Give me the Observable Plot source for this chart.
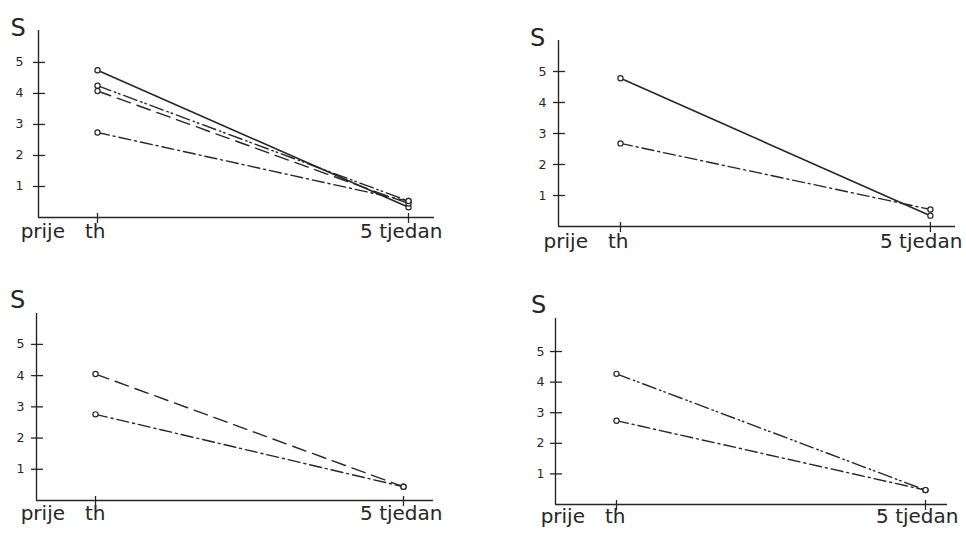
<!DOCTYPE html>
<html>
<head>
<meta charset="utf-8">
<script src="https://cdn.jsdelivr.net/npm/d3@7"></script>
<script src="https://cdn.jsdelivr.net/npm/@observablehq/plot@0.6"></script>
<style>
  html, body { margin: 0; padding: 0; background: #ffffff; }
  #wrap { position: relative; width: 966px; height: 537px; overflow: hidden; background: #ffffff; }
  .panel { position: absolute; }
  .panel svg { display: block; overflow: visible; }
</style>
</head>
<body>
<div id="wrap"></div>
<script>
// ---------- data ----------
const phases = ["prije\u2003th", "5 tjedan"];   // x categories (0, 1)
const yTicks = [1, 2, 3, 4, 5];
const yLabel = "S";

// panel 1 (top left)
const p1Solid      = [4.75, 0.33];
const p1DashDotDot = [4.25, 0.53];
const p1Dashed     = [4.08, 0.45];
const p1DashDot    = [2.74, 0.53];
// panel 2 (top right)
const p2Solid   = [4.78, 0.35];
const p2DashDot = [2.68, 0.55];
// panel 3 (bottom left)
const p3Dashed  = [4.05, 0.44];
const p3DashDot = [2.76, 0.44];
// panel 4 (bottom right)
const p4DashDotDot = [4.27, 0.47];
const p4DashDot    = [2.74, 0.47];

// ---------- styles / layout ----------
const ink = "#262626";
const dashes = {
  solid: null,
  dashed: "14,7",
  dashDot: "12,4,2,4",
  dashDotDot: "14,4,1.5,3,1.5,4"
};

const panels = [
  { left: 0, top: 0, width: 480, height: 262, ml: 38, mr: 46, mt: 30, mb: 45,
    xd: [-0.1897, 1.0836], ymax: 6.03, sdx: -20.5, sdy: -11.5, ydx: -19,
    prijeDx: 8, tjDx: 34, labDy: 20,
    series: [[p1Solid, "solid"], [p1DashDotDot, "dashDotDot"], [p1Dashed, "dashed"], [p1DashDot, "dashDot"]] },
  { left: 490, top: 0, width: 476, height: 262, ml: 68, mr: 11, mt: 40, mb: 36,
    xd: [-0.2, 1.081], ymax: 6.0, sdx: -21, sdy: -12, ydx: -16,
    prijeDx: 8, tjDx: 32, labDy: 21,
    series: [[p2Solid, "solid"], [p2DashDot, "dashDot"]] },
  { left: 0, top: 268, width: 480, height: 269, ml: 36, mr: 47, mt: 45, mb: 37,
    xd: [-0.1916, 1.0974], ymax: 5.99, sdx: -19, sdy: -23, ydx: -16,
    prijeDx: 10, tjDx: 39, labDy: 19,
    series: [[p3Dashed, "dashed"], [p3DashDot, "dashDot"]] },
  { left: 490, top: 268, width: 476, height: 269, ml: 65, mr: 19, mt: 50, mb: 33,
    xd: [-0.1974, 1.0712], ymax: 6.08, sdx: -17, sdy: -23, ydx: -15,
    prijeDx: 9, tjDx: 33, labDy: 18,
    series: [[p4DashDotDot, "dashDotDot"], [p4DashDot, "dashDot"]] }
];

const font = "'DejaVu Sans', 'Liberation Sans', sans-serif";
const wrap = document.getElementById("wrap");

for (const p of panels) {
  const lineMarks = [];
  const pts = [];
  for (const [vals, style] of p.series) {
    const recs = vals.map((v, i) => ({ phase: i, value: v }));
    pts.push(...recs);
    lineMarks.push(Plot.line(recs, {
      x: "phase", y: "value", stroke: ink,
      strokeWidth: style === "solid" ? 1.6 : 1.4,
      strokeDasharray: dashes[style]
    }));
  }

  const chart = Plot.plot({
    width: p.width,
    height: p.height,
    marginLeft: p.ml,
    marginRight: p.mr,
    marginTop: p.mt,
    marginBottom: p.mb,
    style: { background: "transparent", fontFamily: font, color: ink, overflow: "visible" },
    x: { type: "linear", domain: p.xd, axis: null },
    y: { type: "linear", domain: [0, p.ymax], axis: null },
    marks: [
      // axes lines
      Plot.ruleY([0], { stroke: ink, strokeWidth: 1.4 }),
      Plot.ruleX([p.xd[0]], { stroke: ink, strokeWidth: 1.4 }),
      // y ticks crossing axis
      Plot.ruleY(yTicks, { y: d => d, x1: () => p.xd[0], x2: () => p.xd[0],
        insetLeft: -5, insetRight: -7, stroke: ink, strokeWidth: 1.3 }),
      // x ticks crossing axis
      Plot.ruleX([0, 1], { x: d => d, y1: () => 0, y2: () => 0,
        insetTop: -4, insetBottom: -6, stroke: ink, strokeWidth: 1.3 }),
      // y tick labels
      Plot.text(yTicks, { y: d => d, frameAnchor: "left", dx: p.ydx, text: d => String(d),
        fontSize: 12.5, fill: ink, textAnchor: "middle" }),
      // x tick labels
      Plot.text([phases[0]], { x: () => 0, frameAnchor: "bottom", text: d => d,
        textAnchor: "end", dx: p.prijeDx, dy: p.labDy, fontSize: 20, fill: ink }),
      Plot.text([phases[1]], { x: () => 1, frameAnchor: "bottom", text: d => d,
        textAnchor: "end", dx: p.tjDx, dy: p.labDy, fontSize: 20, fill: ink }),
      // y label
      Plot.text([yLabel], { frameAnchor: "top-left", dx: p.sdx, dy: p.sdy, text: d => d,
        fontSize: 24, fill: ink, textAnchor: "middle" }),
      // series
      ...lineMarks,
      Plot.dot(pts, { x: "phase", y: "value", r: 2.6, fill: "white", stroke: ink, strokeWidth: 1.2 })
    ]
  });

  const div = document.createElement("div");
  div.className = "panel";
  div.style.left = p.left + "px";
  div.style.top = p.top + "px";
  div.appendChild(chart);
  wrap.appendChild(div);
}
</script>
</body>
</html>
